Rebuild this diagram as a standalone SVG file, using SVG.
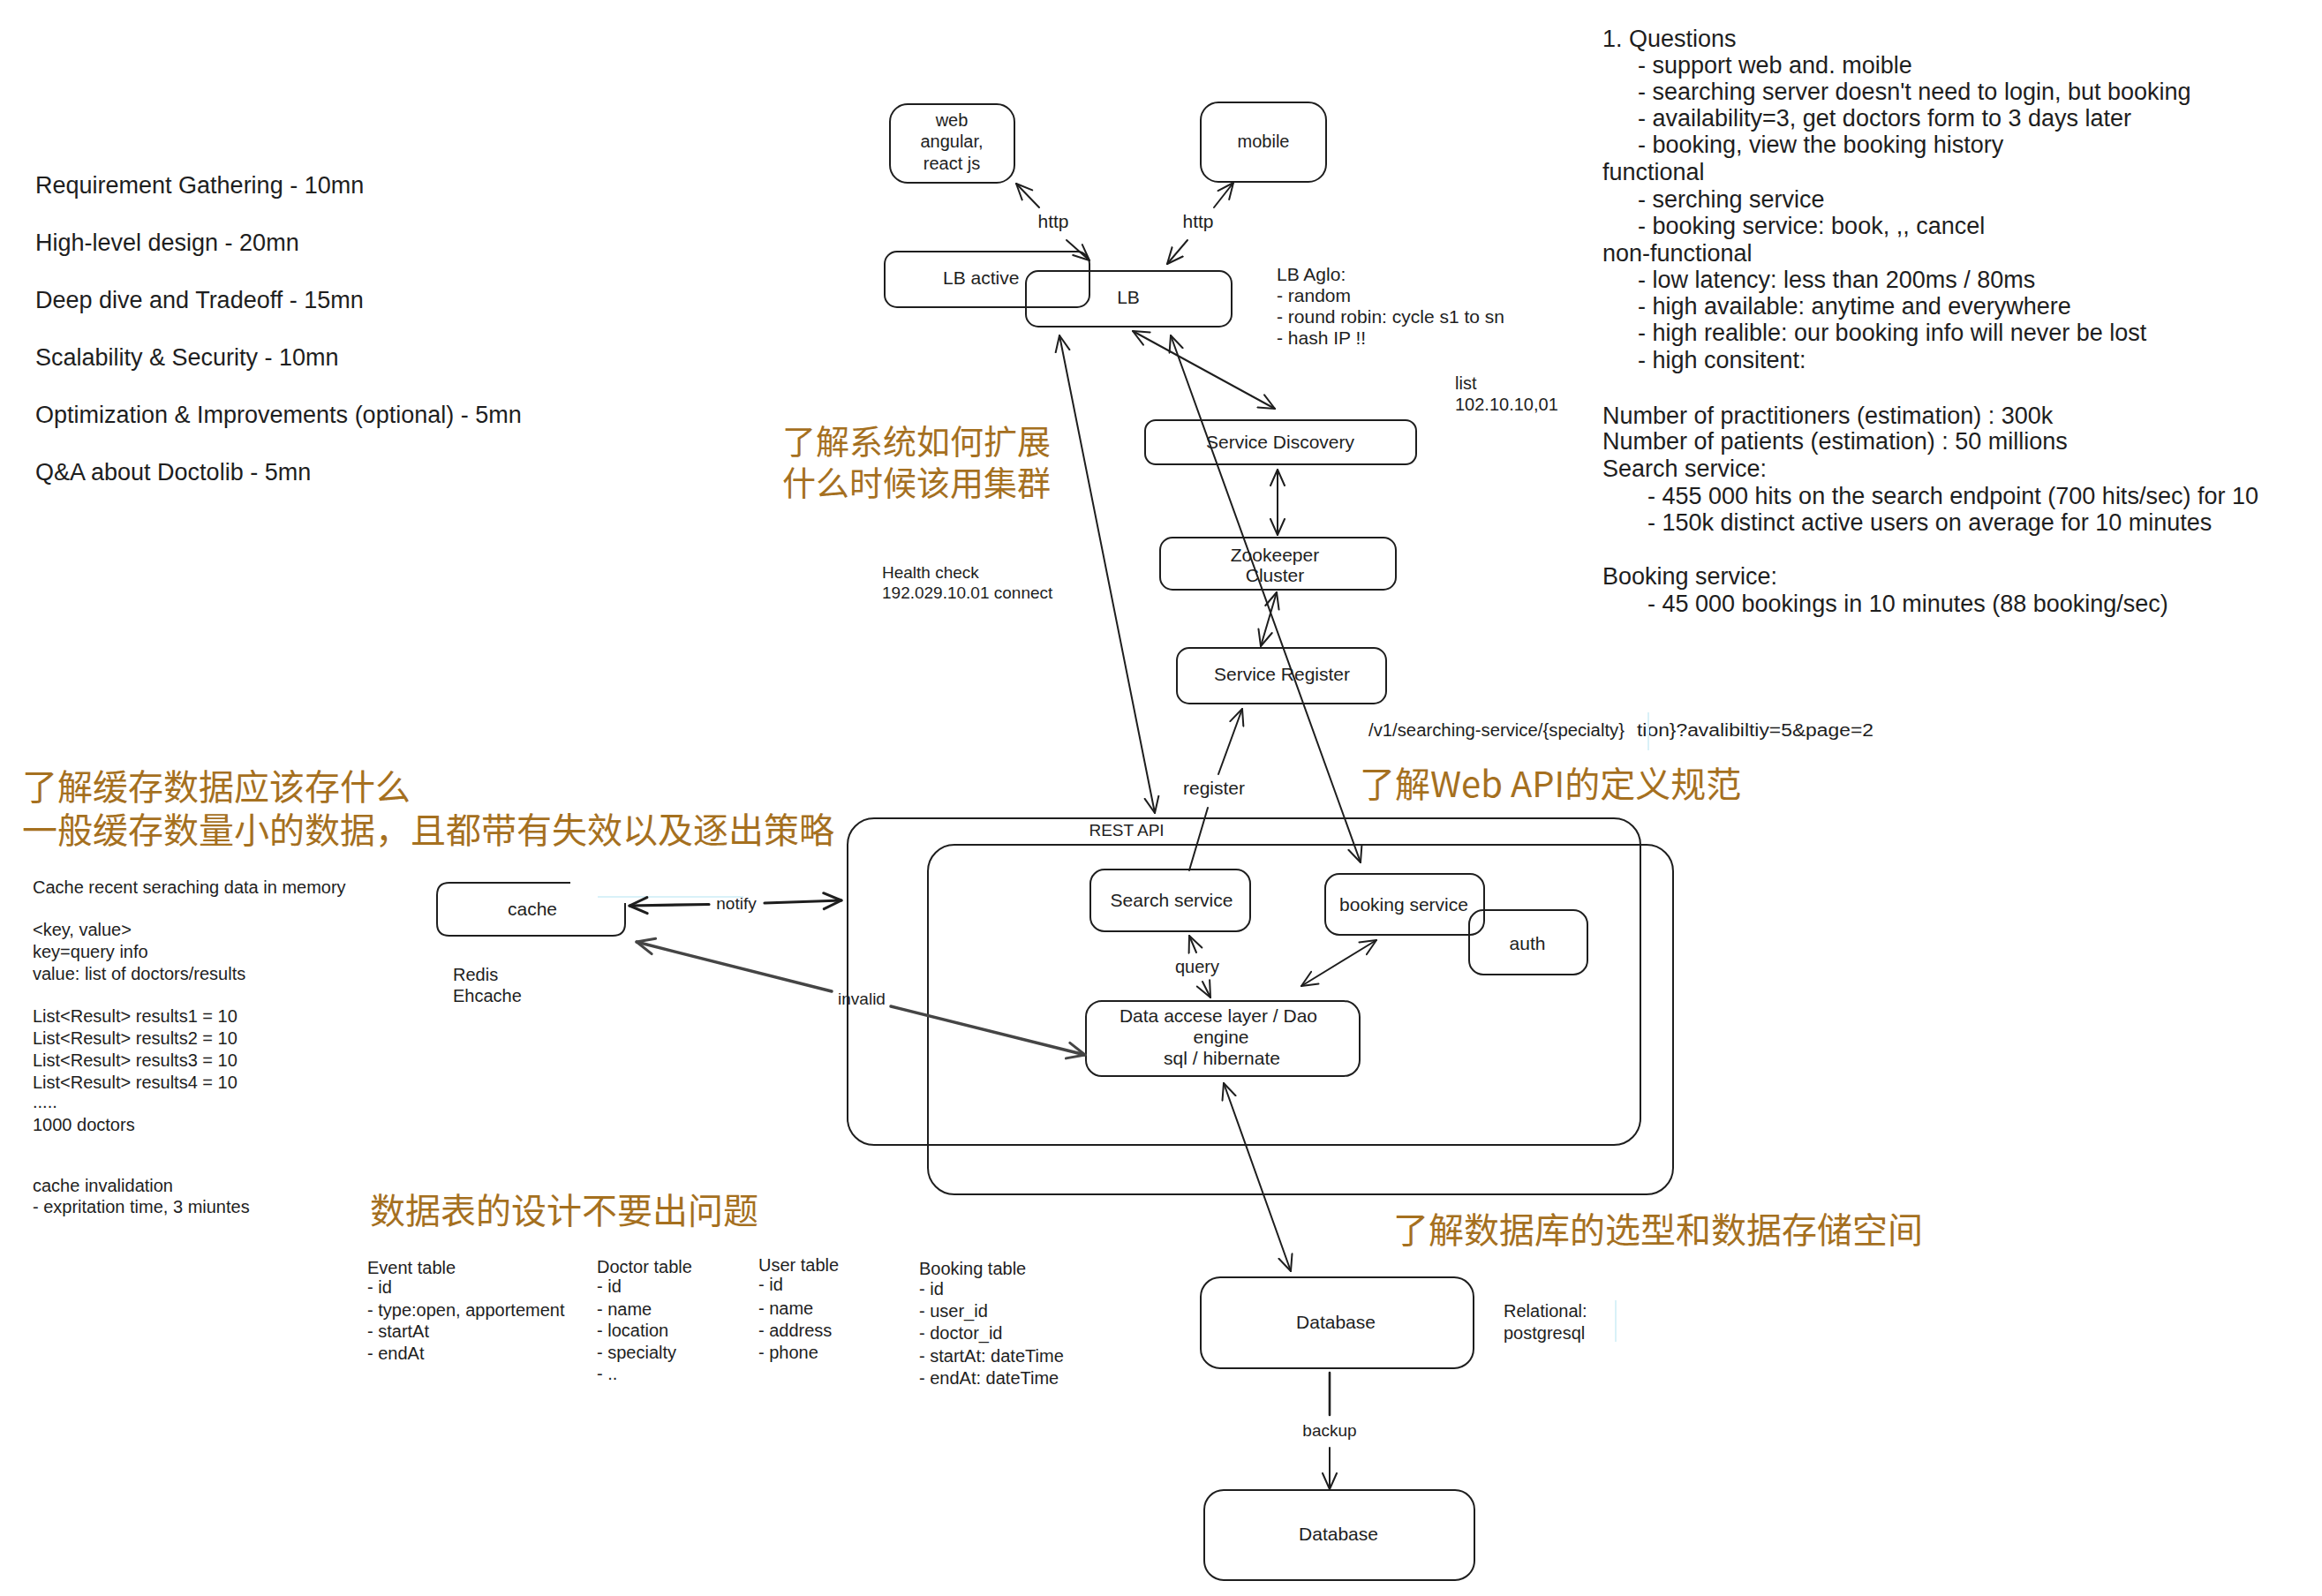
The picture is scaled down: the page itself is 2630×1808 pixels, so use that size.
<svg xmlns="http://www.w3.org/2000/svg" width="2630" height="1808" viewBox="0 0 2630 1808">
  <style>
    .box { fill: none; stroke: #1e1e1e; stroke-width: 2; }
    .t { font-family: 'Liberation Sans', Arial, sans-serif; fill: #1e1e1e; }
    .c { text-anchor: middle; }
    .big { font-size: 27px; }
    .n21 { font-size: 21px; }
    .n20 { font-size: 20px; }
    .n19 { font-size: 19px; }
    .zh { font-family: 'Noto Sans CJK SC', 'Noto Sans', sans-serif; fill: #a5701f; font-size: 40px; }
    .edge { fill: none; stroke: #1e1e1e; stroke-width: 2; stroke-linecap: round; }
    .thick { fill: none; stroke: #1e1e1e; stroke-width: 3.2; stroke-linecap: round; }
    .gray { fill: none; stroke: #454545; stroke-width: 3.4; stroke-linecap: round; }
    .ghost { fill: none; stroke: #d9f1f8; stroke-width: 2; }
  </style>
  <defs>
    <marker id="ah" viewBox="0 0 20 20" refX="19" refY="10" markerWidth="20" markerHeight="20" markerUnits="userSpaceOnUse" orient="auto-start-reverse">
      <path d="M1,2 L19,10 L1,18" fill="none" stroke="#1e1e1e" stroke-width="2" stroke-linecap="round" stroke-linejoin="round"/>
    </marker>
    <marker id="ah-thick" viewBox="0 0 24 24" refX="22" refY="12" markerWidth="24" markerHeight="24" markerUnits="userSpaceOnUse" orient="auto-start-reverse">
      <path d="M2,3 L22,12 L2,21" fill="none" stroke="#1e1e1e" stroke-width="3" stroke-linecap="round" stroke-linejoin="round"/>
    </marker>
    <marker id="ah-gray" viewBox="0 0 24 24" refX="22" refY="12" markerWidth="24" markerHeight="24" markerUnits="userSpaceOnUse" orient="auto-start-reverse">
      <path d="M2,3 L22,12 L2,21" fill="none" stroke="#454545" stroke-width="3" stroke-linecap="round" stroke-linejoin="round"/>
    </marker>
  </defs>

  <rect x="0" y="0" width="2630" height="1808" fill="#ffffff"/>

  <!-- interview agenda -->
  <g id="agenda" class="t big">
    <text x="40" y="219">Requirement Gathering - 10mn</text>
    <text x="40" y="284">High-level design - 20mn</text>
    <text x="40" y="349">Deep dive and Tradeoff - 15mn</text>
    <text x="40" y="414">Scalability &amp; Security - 10mn</text>
    <text x="40" y="479">Optimization &amp; Improvements (optional) - 5mn</text>
    <text x="40" y="544">Q&amp;A about Doctolib - 5mn</text>
  </g>

  <!-- requirements and estimations -->
  <g id="requirements" class="t big">
    <text x="1815" y="53">1. Questions</text>
    <text x="1855" y="83">- support web and. moible</text>
    <text x="1855" y="113">- searching server doesn't need to login, but booking</text>
    <text x="1855" y="143">- availability=3, get doctors form to 3 days later</text>
    <text x="1855" y="173">- booking, view the booking history</text>
    <text x="1815" y="204">functional</text>
    <text x="1855" y="235">- serching service</text>
    <text x="1855" y="265">- booking service: book, ,, cancel</text>
    <text x="1815" y="296">non-functional</text>
    <text x="1855" y="326">- low latency: less than 200ms / 80ms</text>
    <text x="1855" y="356">- high available: anytime and everywhere</text>
    <text x="1855" y="386">- high realible: our booking info will never be lost</text>
    <text x="1855" y="417">- high consitent:</text>
    <text x="1815" y="480">Number of practitioners (estimation) : 300k</text>
    <text x="1815" y="509">Number of patients (estimation) : 50 millions</text>
    <text x="1815" y="540">Search service:</text>
    <text x="1866" y="571">- 455 000 hits on the search endpoint (700 hits/sec) for 10</text>
    <text x="1866" y="601">- 150k distinct active users on average for 10 minutes</text>
    <text x="1815" y="662">Booking service:</text>
    <text x="1866" y="693">- 45 000 bookings in 10 minutes (88 booking/sec)</text>
  </g>

  <!-- side notes -->
  <g id="lb-algo" class="t n21">
    <text x="1446" y="318">LB Aglo:</text>
    <text x="1446" y="342">- random</text>
    <text x="1446" y="366">- round robin: cycle s1 to sn</text>
    <text x="1446" y="390">- hash IP !!</text>
  </g>
  <g id="ip-list" class="t n20">
    <text x="1648" y="441">list</text>
    <text x="1648" y="465">102.10.10,01</text>
  </g>
  <g id="health-check" class="t n19">
    <text x="999" y="655">Health check</text>
    <text x="999" y="678">192.029.10.01 connect</text>
  </g>
  <g id="api-url" class="t n20">
    <text x="1550" y="834" textLength="290" lengthAdjust="spacingAndGlyphs">/v1/searching-service/{specialty}</text>
    <text x="1854" y="834" textLength="268" lengthAdjust="spacingAndGlyphs">tion}?avalibiltiy=5&amp;page=2</text>
    <line class="ghost" x1="1867" y1="807" x2="1867" y2="850"/>
  </g>
  <g id="cache-notes" class="t n20">
    <text x="37" y="1012">Cache recent seraching data in memory</text>
    <text x="37" y="1060">&lt;key, value&gt;</text>
    <text x="37" y="1085">key=query info</text>
    <text x="37" y="1110">value: list of doctors/results</text>
    <text x="37" y="1158">List&lt;Result&gt; results1 = 10</text>
    <text x="37" y="1183">List&lt;Result&gt; results2 = 10</text>
    <text x="37" y="1208">List&lt;Result&gt; results3 = 10</text>
    <text x="37" y="1233">List&lt;Result&gt; results4 = 10</text>
    <text x="37" y="1255">.....</text>
    <text x="37" y="1281">1000 doctors</text>
    <text x="37" y="1350">cache invalidation</text>
    <text x="37" y="1374">- expritation time, 3 miuntes</text>
  </g>
  <g id="cache-impl" class="t n20">
    <text x="513" y="1111">Redis</text>
    <text x="513" y="1135">Ehcache</text>
  </g>
  <g id="db-notes" class="t n20">
    <text x="1703" y="1492">Relational:</text>
    <text x="1703" y="1517">postgresql</text>
    <line class="ghost" x1="1830" y1="1473" x2="1830" y2="1520"/>
  </g>

  <!-- table schemas -->
  <g id="tables" class="t n20">
    <text x="416" y="1443">Event table</text>
    <text x="416" y="1465">- id</text>
    <text x="416" y="1491">- type:open, apportement</text>
    <text x="416" y="1515">- startAt</text>
    <text x="416" y="1540">- endAt</text>

    <text x="676" y="1442">Doctor table</text>
    <text x="676" y="1464">- id</text>
    <text x="676" y="1490">- name</text>
    <text x="676" y="1514">- location</text>
    <text x="676" y="1539">- specialty</text>
    <text x="676" y="1563">- ..</text>

    <text x="859" y="1440">User table</text>
    <text x="859" y="1462">- id</text>
    <text x="859" y="1489">- name</text>
    <text x="859" y="1514">- address</text>
    <text x="859" y="1539">- phone</text>

    <text x="1041" y="1444">Booking table</text>
    <text x="1041" y="1467">- id</text>
    <text x="1041" y="1492">- user_id</text>
    <text x="1041" y="1517">- doctor_id</text>
    <text x="1041" y="1543">- startAt: dateTime</text>
    <text x="1041" y="1568">- endAt: dateTime</text>
  </g>

  <!-- highlighted remarks -->
  <g id="remarks" class="zh">
    <text x="886" y="514" style="font-size:38px">了解系统如何扩展<tspan x="886" dy="47">什么时候该用集群</tspan></text>
    <text x="25" y="906">了解缓存数据应该存什么<tspan x="25" dy="49">一般缓存数量小的数据，且都带有失效以及逐出策略</tspan></text>
    <text x="1540" y="903">了解Web API的定义规范</text>
    <text x="419" y="1386">数据表的设计不要出问题</text>
    <text x="1578" y="1408">了解数据库的选型和数据存储空间</text>
  </g>

  <!-- containers -->
  <g id="rest-api">
    <rect class="box" x="960" y="927" width="898" height="370" rx="30"/>
    <text class="t n19 c" x="1276" y="947">REST API</text>
  </g>
  <g id="services">
    <rect class="box" x="1051" y="957" width="844" height="396" rx="30"/>
  </g>

  <!-- nodes -->
  <g id="web">
    <rect class="box" x="1008" y="118" width="141" height="89" rx="20"/>
    <text class="t n20 c" x="1078" y="143">web</text>
    <text class="t n20 c" x="1078" y="167">angular,</text>
    <text class="t n20 c" x="1078" y="192">react js</text>
  </g>
  <g id="mobile">
    <rect class="box" x="1360" y="116" width="142" height="90" rx="20"/>
    <text class="t n20 c" x="1431" y="167">mobile</text>
  </g>
  <g id="lb-active">
    <rect class="box" x="1002" y="285" width="232" height="63" rx="14"/>
    <text class="t n21" x="1068" y="322">LB active</text>
  </g>
  <g id="lb">
    <rect class="box" x="1162" y="307" width="233" height="63" rx="14"/>
    <text class="t n21 c" x="1278" y="344">LB</text>
  </g>
  <g id="service-discovery">
    <rect class="box" x="1297" y="476" width="307" height="50" rx="12"/>
    <text class="t n21 c" x="1450" y="508">Service Discovery</text>
  </g>
  <g id="zookeeper-cluster">
    <rect class="box" x="1314" y="609" width="267" height="59" rx="14"/>
    <text class="t n21 c" x="1444" y="636">Zookeeper</text>
    <text class="t n21 c" x="1444" y="659">Cluster</text>
  </g>
  <g id="service-register">
    <rect class="box" x="1333" y="734" width="237" height="63" rx="14"/>
    <text class="t n21 c" x="1452" y="771">Service Register</text>
  </g>
  <g id="search-service">
    <rect class="box" x="1235" y="985" width="181" height="70" rx="16"/>
    <text class="t n21 c" x="1327" y="1027">Search service</text>
  </g>
  <g id="booking-service">
    <rect class="box" x="1501" y="990" width="180" height="69" rx="16"/>
    <text class="t n21 c" x="1590" y="1032">booking service</text>
  </g>
  <g id="auth">
    <rect class="box" x="1664" y="1031" width="134" height="73" rx="16"/>
    <text class="t n21 c" x="1730" y="1076">auth</text>
  </g>
  <g id="data-access-layer">
    <rect class="box" x="1230" y="1134" width="310" height="85" rx="18"/>
    <text class="t n21 c" x="1380" y="1158">Data accese layer / Dao</text>
    <text class="t n21 c" x="1383" y="1182">engine</text>
    <text class="t n21 c" x="1384" y="1206">sql / hibernate</text>
  </g>
  <g id="cache">
    <path class="box" d="M646,1000 H509 Q495,1000 495,1014 V1046 Q495,1060 509,1060 H694 Q708,1060 708,1046 V1023"/>
    <line class="ghost" x1="677" y1="1016" x2="842" y2="1016"/>
    <text class="t n21 c" x="603" y="1037">cache</text>
  </g>
  <g id="database">
    <rect class="box" x="1360" y="1447" width="309" height="103" rx="22"/>
    <text class="t n21 c" x="1513" y="1505">Database</text>
  </g>
  <g id="database-backup">
    <rect class="box" x="1364" y="1688" width="306" height="102" rx="22"/>
    <text class="t n21 c" x="1516" y="1745">Database</text>
  </g>

  <!-- connectors -->
  <g id="connectors">
    <!-- web <-> LB active (http) -->
    <line class="edge" x1="1177" y1="235" x2="1151" y2="208" marker-end="url(#ah)"/>
    <line class="edge" x1="1208" y1="272" x2="1234" y2="295" marker-end="url(#ah)"/>
    <text class="t n21 c" x="1193" y="258">http</text>
    <!-- mobile <-> LB (http) -->
    <line class="edge" x1="1375" y1="235" x2="1397" y2="207" marker-end="url(#ah)"/>
    <line class="edge" x1="1345" y1="272" x2="1322" y2="299" marker-end="url(#ah)"/>
    <text class="t n21 c" x="1357" y="258">http</text>
    <!-- LB <-> Service Discovery -->
    <line class="edge" x1="1283" y1="375" x2="1444" y2="463" marker-start="url(#ah)" marker-end="url(#ah)"/>
    <!-- LB <-> booking service -->
    <line class="edge" x1="1326" y1="380" x2="1541" y2="977" marker-start="url(#ah)" marker-end="url(#ah)"/>
    <!-- LB <-> REST API -->
    <line class="edge" x1="1200" y1="380" x2="1308" y2="921" marker-start="url(#ah)" marker-end="url(#ah)"/>
    <!-- Service Discovery <-> Zookeeper -->
    <line class="edge" x1="1447" y1="532" x2="1447" y2="606" marker-start="url(#ah)" marker-end="url(#ah)"/>
    <!-- Zookeeper <-> Service Register -->
    <line class="edge" x1="1446" y1="671" x2="1428" y2="732" marker-start="url(#ah)" marker-end="url(#ah)"/>
    <!-- Search service -> Service Register (register) -->
    <line class="edge" x1="1347" y1="986" x2="1368" y2="915"/>
    <line class="edge" x1="1380" y1="877" x2="1407" y2="803" marker-end="url(#ah)"/>
    <text class="t n21 c" x="1375" y="900">register</text>
    <!-- Search service <-> DAL (query) -->
    <line class="edge" x1="1355" y1="1079" x2="1347" y2="1060" marker-end="url(#ah)"/>
    <line class="edge" x1="1362" y1="1112" x2="1371" y2="1130" marker-end="url(#ah)"/>
    <text class="t n20 c" x="1356" y="1102">query</text>
    <!-- booking service <-> DAL -->
    <line class="edge" x1="1559" y1="1065" x2="1474" y2="1117" marker-start="url(#ah)" marker-end="url(#ah)"/>
    <!-- DAL <-> Database -->
    <line class="edge" x1="1386" y1="1227" x2="1462" y2="1440" marker-start="url(#ah)" marker-end="url(#ah)"/>
    <!-- Database -> backup -->
    <line class="edge" x1="1506" y1="1555" x2="1506" y2="1603" style="stroke-width:2.6"/>
    <line class="edge" x1="1506" y1="1640" x2="1506" y2="1687" marker-end="url(#ah)"/>
    <text class="t n19 c" x="1506" y="1627">backup</text>
    <!-- cache <-> REST API (notify) -->
    <line class="thick" x1="713" y1="1026" x2="803" y2="1024.5" marker-start="url(#ah-thick)"/>
    <line class="thick" x1="866" y1="1023" x2="953" y2="1020" marker-end="url(#ah-thick)"/>
    <text class="t n19 c" x="834" y="1030">notify</text>
    <!-- cache <-> DAL (invalid) -->
    <line class="gray" x1="942" y1="1123" x2="721" y2="1067" marker-end="url(#ah-gray)"/>
    <line class="gray" x1="1009" y1="1140" x2="1229" y2="1195" marker-end="url(#ah-gray)"/>
    <text class="t n19 c" x="976" y="1138">invalid</text>
  </g>
</svg>
